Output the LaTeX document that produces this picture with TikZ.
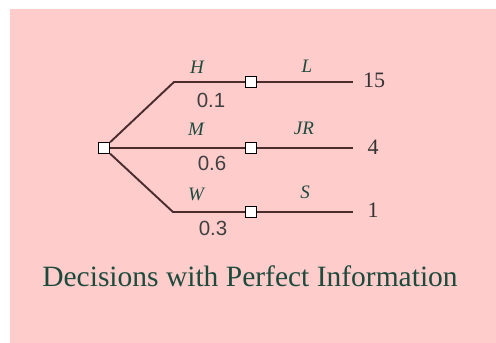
\documentclass[tikz,border=0pt]{standalone}
\usepackage{fontspec}
\setmainfont{Liberation Serif}
\newfontfamily\probfont{Liberation Sans}
\usepackage{tikz}
\usetikzlibrary{positioning}
\definecolor{bgpink}{HTML}{FFCCCC}
\definecolor{branchbrown}{HTML}{4A2C2C}
\definecolor{textgreen}{HTML}{1E4A3C}
\tikzset{
  decbox/.style={draw=black, fill=white, line width=1.3pt, minimum size=11pt, inner sep=0pt},
  branch/.style={draw=branchbrown, line width=1.9pt},
  outcome/.style={font=\itshape\fontsize{19}{19}\selectfont, text=textgreen},
  prob/.style={font=\probfont\fontsize{20.5}{20.5}\selectfont, text=black!75},
  payoff/.style={font=\fontsize{22}{22}\selectfont, text=black!80},
}

\begin{document}
\begin{tikzpicture}[x=1pt,y=-1pt]
\fill[white] (0,0) rectangle (496,343);
\fill[bgpink] (10,9) rectangle (496,343);
\useasboundingbox (0,0) rectangle (496,343);
% decision and chance points
\node[decbox] (root) at (104,148) {};
\node[decbox] (hbox) at (251,82) {};
\node[decbox] (mbox) at (251,148) {};
\node[decbox] (wbox) at (251,212) {};
\coordinate (hbend) at (174,82);
\coordinate (wbend) at (173,212);
\coordinate (hend) at (353,82);
\coordinate (mend) at (353,148);
\coordinate (wend) at (353,212);
% branches
\draw[branch] (root) -- (hbend) -- (hbox);
\draw[branch] (root) -- (mbox);
\draw[branch] (root) -- (wbend) -- (wbox);
\draw[branch] (hbox) -- (hend);
\draw[branch] (mbox) -- (mend);
\draw[branch] (wbox) -- (wend);
% labels
\node[outcome] (hlab) at (197,67) {H};
\node[outcome] (mlab) at (196,129) {M};
\node[outcome] (wlab) at (196,194) {W};
\node[prob] (hprob) at (211,100) {0.1};
\node[prob] (mprob) at (212,163) {0.6};
\node[prob] (wprob) at (213,228) {0.3};
\node[outcome] (llab) at (307,66) {L};
\node[outcome] (jrlab) at (304,128) {JR};
\node[outcome] (slab) at (305,192) {S};
\node[payoff] (hpay) at (374,80) {15};
\node[payoff] (mpay) at (373,147) {4};
\node[payoff] (wpay) at (373,210) {1};
\node[font=\fontsize{29.5}{29.5}\selectfont, text=textgreen] (title) at (250,276) {Decisions with Perfect Information};
\end{tikzpicture}
\end{document}
